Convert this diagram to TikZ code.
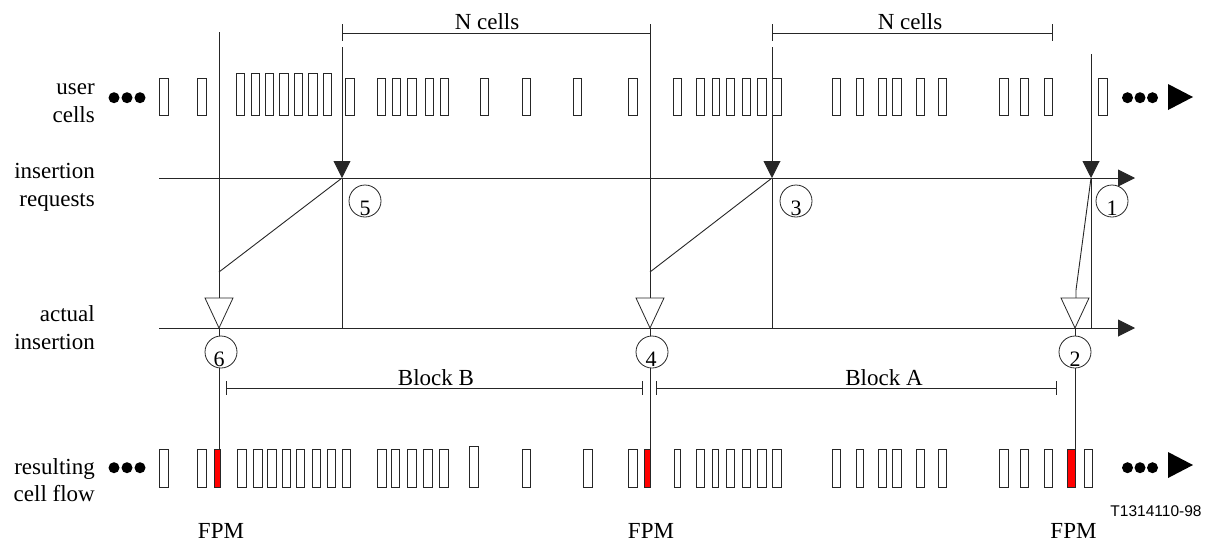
\documentclass[tikz,border=0pt]{standalone}
\usepackage{fontspec}
\setmainfont{Liberation Serif}
\newfontfamily\arialfont{Liberation Sans}
\usetikzlibrary{arrows.meta}
\begin{document}
\begin{tikzpicture}[x=1pt,y=-1pt,
  ln/.style={line width=0.9pt,draw=black!85},
  cellbox/.style={draw=black!85,line width=0.8pt,fill=white},
  fpmcell/.style={draw=black!85,line width=0.8pt,fill=red},
  circ/.style={circle,draw=black!85,line width=0.8pt,minimum size=32pt,inner sep=0pt},
  digit/.style={font=\fontsize{22}{24}\selectfont,inner sep=0pt},
  lbl/.style={font=\fontsize{23}{28}\selectfont,anchor=base east,inner sep=0pt},
  txt/.style={font=\fontsize{23}{28}\selectfont,anchor=base,inner sep=0pt},
  reqarrow/.style={ln,-{Triangle[length=17pt,width=17pt]}},
  opentri/.style={draw=black!85,line width=0.8pt,fill=white},
  dot/.style={circle,fill=black,minimum size=11pt,inner sep=0pt}]
\useasboundingbox (0,0) rectangle (1209,542);
% left labels
\node[lbl] (l1a) at (95,94.3) {user};
\node[lbl] (l1b) at (95,122) {cells};
\node[lbl] (l2a) at (95,178.3) {insertion};
\node[lbl] (l2b) at (95,206) {requests};
\node[lbl] (l3a) at (95,321.7) {actual};
\node[lbl] (l3b) at (95,349.3) {insertion};
\node[lbl] (l4a) at (95,474) {resulting};
\node[lbl] (l4b) at (95,501.7) {cell flow};
% dots and arrows on cell rows
\foreach \x [count=\i] in {114,127,140}{
  \node[dot] (ul\i) at (\x,97.7) {};
  \node[dot] (rl\i) at (\x,467.7) {};}
\foreach \x [count=\i] in {1127.5,1140,1152.5}{
  \node[dot] (ur\i) at (\x,97.7) {};
  \node[dot] (rr\i) at (\x,467.7) {};}
\fill[black] (1168,84) -- (1193,97) -- (1168,110) -- cycle;
\fill[black] (1168,452) -- (1193,465) -- (1168,478) -- cycle;
% user cells
\foreach \l/\r in {159/168,197/206,345/354,377/385,392/400,407/416,425/433,440/448,480/488,522/530,573/581,628/637,673/681,696/704,712/719,726/734,742/750,757/766,772/781,832/840,856/863,878/886,892/901,916/924,938/946,999/1008,1020/1028,1044/1052,1098/1107}
  \draw[cellbox] (\l,78.5) rectangle (\r,115);
\foreach \l/\r in {236/244,251/259,265/273,279/288,294/302,308/317,323/331}
  \draw[cellbox] (\l,73.5) rectangle (\r,115);
% resulting cells
\foreach \l/\r in {159/168,197/206,237/246,253/262,267/276,282/290,296/304,312/320,327/335,342/350,377/386,391/399,407/416,423/432,439/448,522/530,583/592,628/637,674/680,696/704,712/718,726/734,742/750,757/766,772/781,832/840,856/863,878/886,892/901,916/924,938/946,999/1008,1020/1028,1044/1052,1084/1092}
  \draw[cellbox] (\l,449) rectangle (\r,487);
\draw[cellbox] (469,446) rectangle (478,487);
\foreach \l/\r in {214/220,644/650,1067/1075}
  \draw[fpmcell] (\l,449) rectangle (\r,487);
% coordinates
\coordinate (a6top) at (219,32);
\coordinate (a6mid) at (219,272);
\coordinate (a6tri) at (219,298);
\coordinate (a4top) at (650,24);
\coordinate (a4mid) at (650,272);
\coordinate (a4tri) at (650,298);
\coordinate (a2mid) at (1076,290);
\coordinate (a2tri) at (1076,298);
\coordinate (r5top) at (342,47);
\coordinate (r5) at (342,178);
\coordinate (r5bot) at (342,328);
\coordinate (r3top) at (772,47);
\coordinate (r3) at (772,178);
\coordinate (r3bot) at (772,328);
\coordinate (r1top) at (1091,54);
\coordinate (r1) at (1091,178);
\coordinate (r1bot) at (1091,328);
\coordinate (reqs) at (159,178);
\coordinate (reqe) at (1135,178);
\coordinate (acts) at (159,328);
\coordinate (acte) at (1135,328);
% axes
\draw[reqarrow] (reqs) -- (reqe);
\draw[reqarrow] (acts) -- (acte);
% vertical request lines
\draw[reqarrow] (r5top) -- (r5);
\draw[ln] (r5) -- (r5bot);
\draw[reqarrow] (r3top) -- (r3);
\draw[ln] (r3) -- (r3bot);
\draw[reqarrow] (r1top) -- (r1);
\draw[ln] (r1) -- (r1bot);
% insertion lines
\draw[ln] (a6top) -- (a6tri);
\draw[ln] (a6mid) -- (r5);
\draw[ln] (a4top) -- (a4tri);
\draw[ln] (a4mid) -- (r3);
\draw[ln] (r1) -- (a2mid) -- (a2tri);
% open triangles
\draw[opentri] (205,298) -- (233,298) -- (219,328) -- cycle;
\draw[opentri] (636,298) -- (664,298) -- (650,328) -- cycle;
\draw[opentri] (1061,298) -- (1089,298) -- (1075,328) -- cycle;
% circles
\node[circ] (c6) at (221,352) {};
\node[circ] (c4) at (652,352) {};
\node[circ] (c2) at (1075,352) {};
\node[circ] (c5) at (365,201) {};
\node[circ] (c3) at (796,201) {};
\node[circ] (c1) at (1112,201) {};
\node[digit] (d6) at ([xshift=-2pt,yshift=-7pt]c6.center) {6};
\node[digit] (d4) at ([xshift=-1pt,yshift=-7pt]c4.center) {4};
\node[digit] (d2) at ([yshift=-7pt]c2.center) {2};
\node[digit] (d5) at ([yshift=-7pt]c5.center) {5};
\node[digit] (d3) at ([yshift=-7pt]c3.center) {3};
\node[digit] (d1) at ([yshift=-7pt]c1.center) {1};
% circle connections
\draw[ln] (219,328) -- (219,336);
\draw[ln] (650,328) -- (650,336);
\draw[ln] (1075,328) -- (1075,336);
\draw[ln] (219,368) -- (219,449);
\draw[ln] (650,368) -- (650,449);
\draw[ln] (1075,368) -- (1075,449);
% N cells brackets
\draw[ln] (342,24) -- (342,41);
\draw[ln] (342,33) -- (650,33);
\draw[ln] (772,24) -- (772,41);
\draw[ln] (772,33) -- (1052,33);
\draw[ln] (1052,24) -- (1052,41);
\node[txt] (n1) at (487,29.5) {N cells};
\node[txt] (n2) at (910,29.5) {N cells};
% Block brackets
\draw[ln] (226,388) -- (642,388);
\draw[ln] (226,381) -- (226,395);
\draw[ln] (642,381) -- (642,395);
\draw[ln] (656,388) -- (1056,388);
\draw[ln] (656,381) -- (656,395);
\draw[ln] (1056,381) -- (1056,395);
\node[txt] (bb) at (436,385) {Block B};
\node[txt] (ba) at (884,385) {Block A};
% FPM labels
\node[txt] (f6) at (221,538.3) {FPM};
\node[txt] (f4) at (651,538.3) {FPM};
\node[txt] (f2) at (1073.5,538.3) {FPM};
\node[anchor=base,inner sep=0pt,font=\arialfont\fontsize{15.5}{18}\selectfont] (ref) at (1156,516.7) {T1314110-98};
\end{tikzpicture}
\end{document}
